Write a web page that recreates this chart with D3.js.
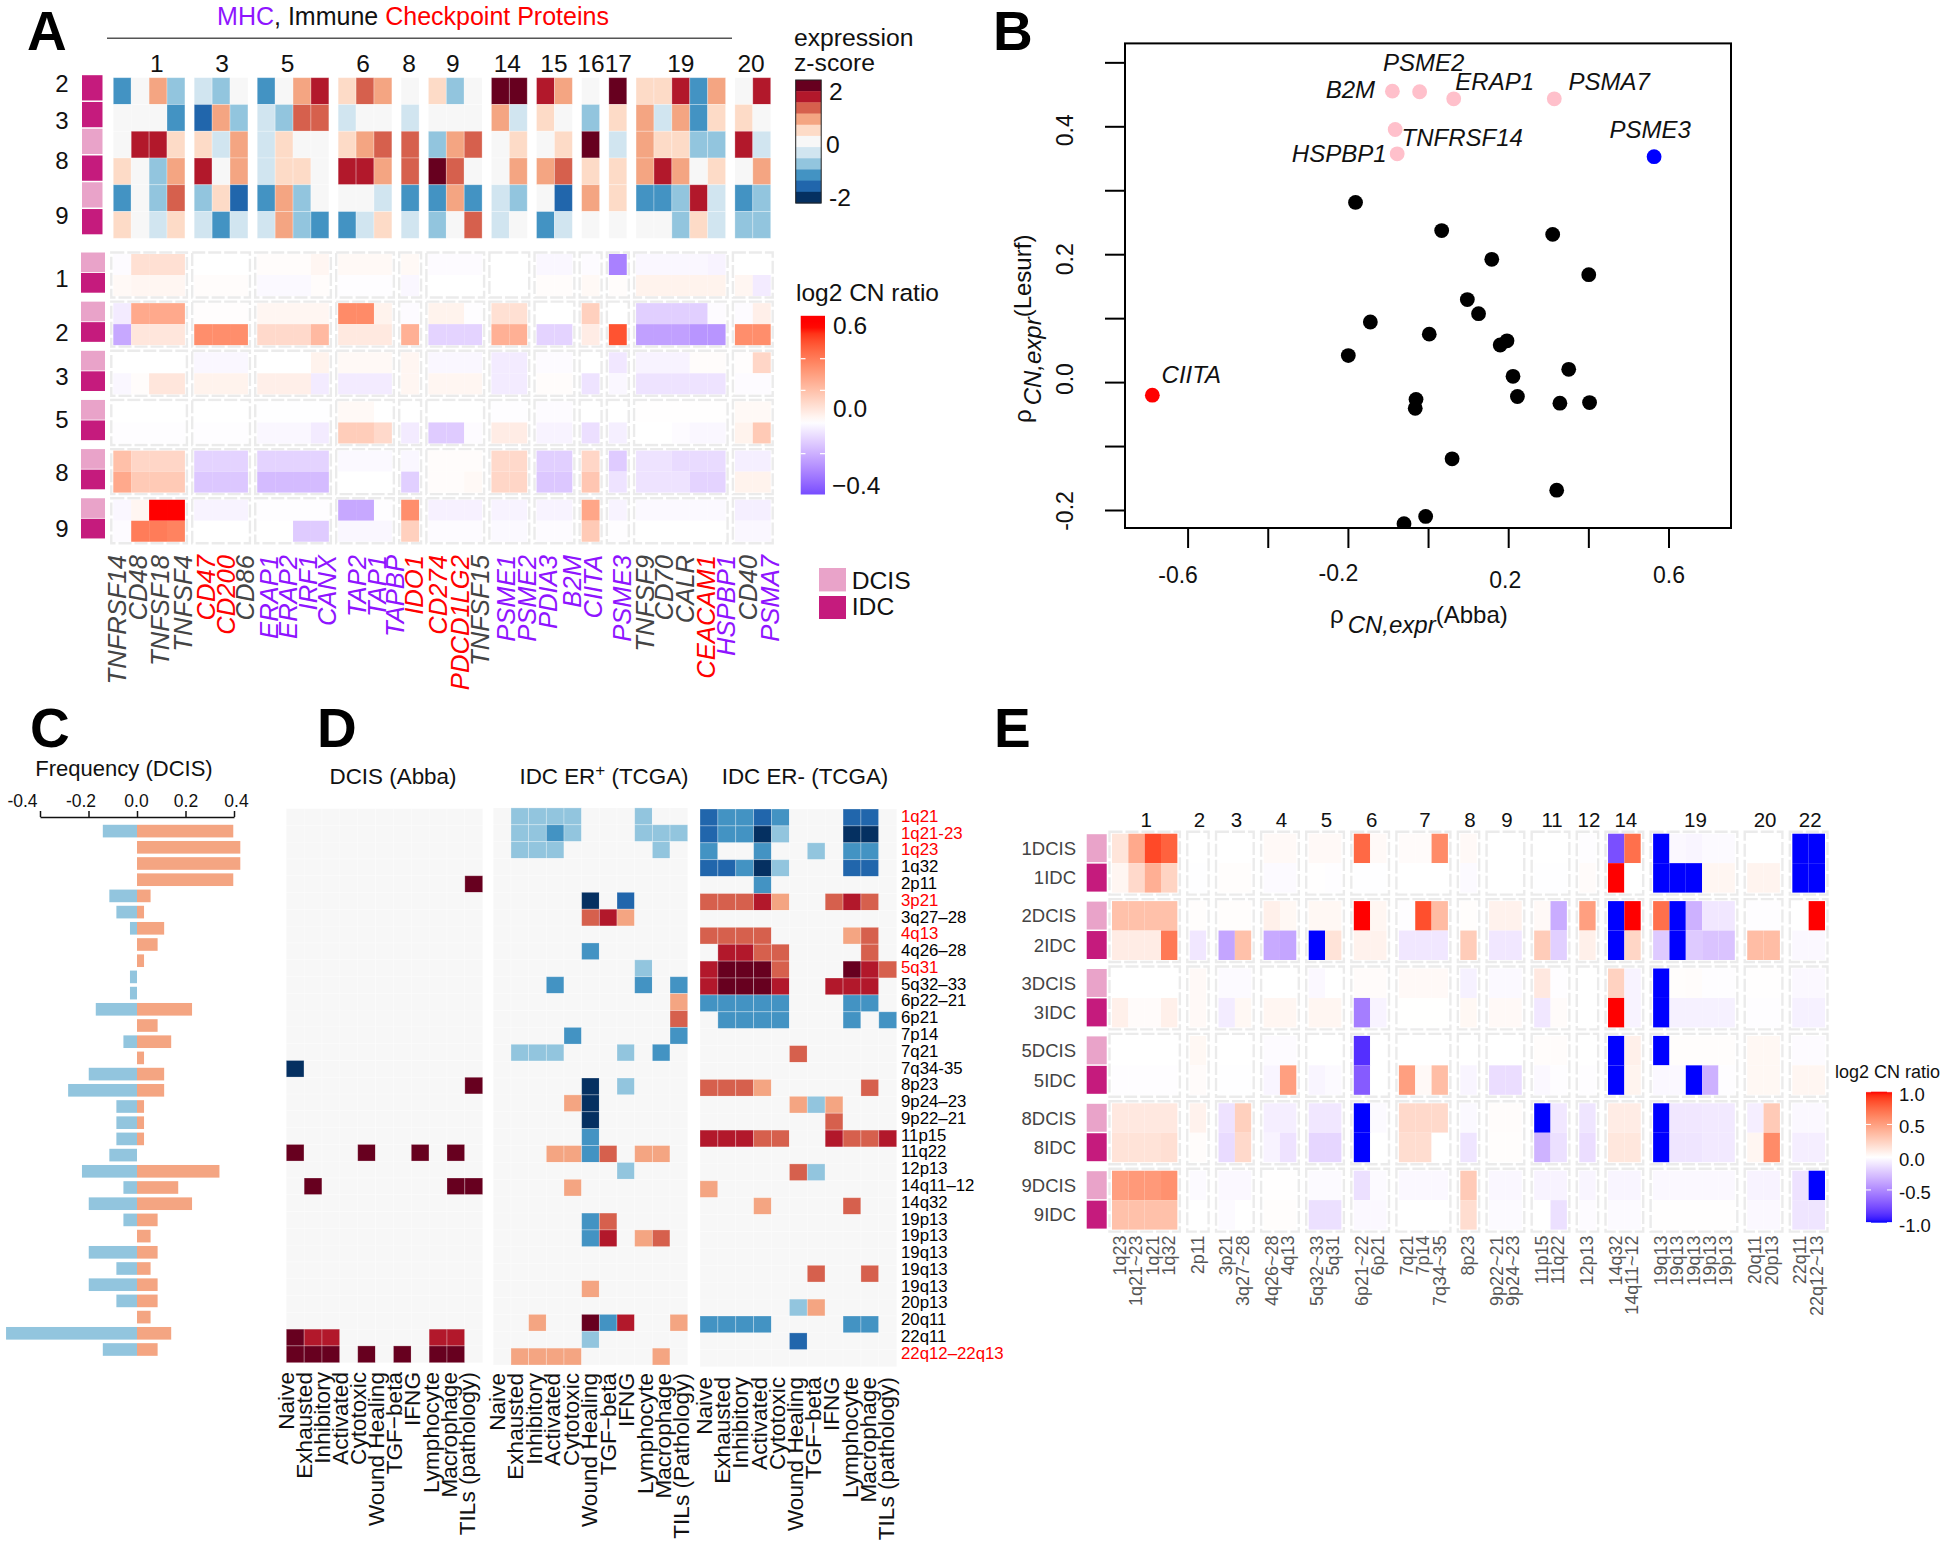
<!DOCTYPE html>
<html><head><meta charset="utf-8">
<script src="https://cdn.jsdelivr.net/npm/d3@7"></script>
<style>html,body{margin:0;padding:0;background:#fff}svg{display:block}text{font-family:"Liberation Sans",Arial,sans-serif}</style>
</head><body><div id="chart"></div>
<script>
// ---------- DATA ----------
const genes=["TNFRSF14","CD48","TNFSF18","TNFSF4","CD47","CD200","CD86","ERAP1","ERAP2","IRF1","CANX","TAP2","TAP1","TAPBP","IDO1","CD274","PDCD1LG2","TNFSF15","PSME1","PSME2","PDIA3","B2M","CIITA","PSME3","TNFSF9","CD70","CALR","CEACAM1","HSPBP1","CD40","PSMA7"];
const checkpointGenes=["CD47","CD200","IDO1","CD274","PDCD1LG2","CEACAM1"];
const mhcGenes=["ERAP1","ERAP2","IRF1","CANX","TAP2","TAP1","TAPBP","PSME1","PSME2","PDIA3","B2M","CIITA","PSME3","HSPBP1","PSMA7"];
const geneChroms=["1","3","5","6","8","9","14","15","16","17","19","20"];
const geneChromSizes=[4,3,4,3,1,3,2,2,1,1,5,2];
// z-score bins (-5..5, 0.4 z per bin)
const exprArm2a=[-3,0,2,-2, -1,-2,0, -3,0,2,4, 1,3,2, 0, 1,-2,0, 5,5, 4,2, 0, 5, 1,1,4,-3,2, 0,4];
const exprArm2b=[0,0,0,-3, -4,2,-2, -1,-2,3,3, -1,0,0, -1, 0,0,0, 2,-1, 1,0, -2, 1, 2,-1,2,-3,1, 1,0];
const exprArm8a=[0,4,4,1, 1,-1,2, -1,1,0,0, 1,2,3, 3, -2,2,3, 0,1, 0,1, 5, -1, 2,1,1,-2,-2, 4,-1];
const exprArm8b=[1,0,-2,2, 4,0,2, -1,1,1,0, 4,4,2, 3, 5,3,0, 0,2, 2,3, 1, 1, 2,4,2,0,1, 0,2];
const exprArm9a=[-3,0,-2,3, -2,1,-4, -3,2,-2,0, 0,0,-1, -3, -3,2,-3, -1,-2, 0,-4, 2, 1, -3,-3,-2,4,-1, -3,-2];
const exprArm9b=[1,0,-1,1, -1,-3,-1, -1,2,-2,-3, -3,-1,1, -1, -2,0,3, -1,0, -3,-1, 0, 0, 0,0,-2,1,-1, -2,-2];
const exprRowTypes=["IDC","IDC","DCIS","IDC","DCIS","IDC"];
const exprRowNames=["2","3","8","9"];
// log2 CN ratio per gene
const cnArm1DCIS=[-.01,.1,.1,.1, 0,0,0, .01,.01,.01,.03, .02,.02,.02, .02, -.01,-.01,-.01, 0,0, -.02,-.02, -.01, -.32, -.02,-.02,-.02,-.02,-.03, 0,0];
const cnArm1IDC=[.02,.03,.03,.03, .01,.01,.01, -.015,-.015,-.015,.01, -.005,-.005,-.005, -.02, 0,0,0, 0,0, .01,.01, .02, .01, .04,.04,.04,.04,.04, .03,-.05];
const cnArm2DCIS=[-.05,.27,.27,.27, .005,.005,.005, .03,.03,.03,.03, .36,.36,.04, -.01, .04,.04,-.005, .1,.1, 0,0, .15, 0, -.12,-.12,-.12,-.12,-.01, -.01,.05];
const cnArm2IDC=[-.22,.08,.08,.08, .35,.35,.35, .12,.12,.12,.22, .07,.07,.07, .25, -.11,-.11,-.11, .25,.25, -.11,-.11, .06, .5, -.24,-.24,-.24,-.27,-.27, .35,.35];
const cnArm3DCIS=[0,0,0,0, -.02,-.02,-.02, 0,0,0,.04, .02,.02,.02, .03, -.02,-.02,-.02, -.05,-.05, -.01,-.01, 0, -.06, -.03,-.03,-.03,.01,.01, .005,.13];
const cnArm3IDC=[-.02,.01,.08,.08, .04,.04,.04, .05,.05,.05,-.05, -.05,-.05,-.05, .03, .03,.03,.03, -.05,-.05, .01,.01, -.07, -.02, -.07,-.07,-.07,-.07,-.07, -.01,-.01];
const cnArm5DCIS=[0,0,0,0, 0,0,0, -.003,-.003,-.003,-.003, .02,.02,0, 0, 0,0,0, -.005,-.005, -.01,-.01, 0, 0, .003,.003,.003,.003,.003, .02,.02];
const cnArm5IDC=[-.005,-.005,-.005,-.005, -.005,-.005,-.005, -.02,-.02,-.02,-.05, .16,.16,.12, -.05, -.13,-.13,-.01, .06,.06, -.03,-.03, -.08, -.04, 0,0,-.01,-.02,-.02, .04,.17];
const cnArm8DCIS=[.2,.13,.13,.13, -.11,-.11,-.11, -.11,-.11,-.11,-.11, -.015,-.015,-.015, -.02, .01,.01,.01, .12,.12, -.12,-.12, .13, -.13, -.07,-.07,-.09,-.09,-.09, -.04,-.04];
const cnArm8IDC=[.27,.17,.17,.17, -.14,-.14,-.14, -.17,-.17,-.17,-.17, 0,0,0, -.12, .01,.01,.02, .13,.13, -.14,-.14, .18, -.07, -.07,-.07,-.07,-.11,-.11, .04,.04];
const cnArm9DCIS=[-.02,.03,.6,.6, -.03,-.03,-.03, -.005,-.005,-.005,-.005, -.22,-.22,-.005, .35, -.035,-.035,-.035, -.03,-.03, -.03,-.03, .28, -.03, -.015,-.015,-.015,-.015,-.015, -.04,-.04];
const cnArm9IDC=[-.01,.4,.4,.38, 0,0,0, 0,0,-.13,-.13, -.02,-.02,-.02, .15, -.01,-.01,-.01, -.015,-.015, -.01,-.01, .17, -.005, 0,0,0,0,0, -.02,-.02];
const cnArmNames=["1","2","3","5","8","9"];
// B: scatter
const bBlackAbba=[-.181,.034,.311,.159,.401,.098,.126,-.144,.003,.197,.18,-.199,.351,.212,.223,-.03,-.032,.329,.403,.06,.321,-.006,-.06];
const bBlackLesurf=[.281,.237,.231,.192,.168,.129,.107,.094,.075,.0645,.058,.0415,.02,.009,-.0225,-.027,-.041,-.033,-.032,-.12,-.169,-.21,-.2215];
const bNamedGenes=["B2M","PSME2","ERAP1","PSMA7","TNFRSF14","HSPBP1","PSME3","CIITA"];
const bNamedAbba=[-.089,-.021,.064,.315,-.082,-.077,.564,-.688];
const bNamedLesurf=[.455,.454,.443,.443,.395,.357,.3525,-.0205];
const bNamedColors=["#ffc0cb","#ffc0cb","#ffc0cb","#ffc0cb","#ffc0cb","#ffc0cb","#0000ff","#ff0000"];
// C: frequency
const cytobands=["1q21","1q21-23","1q23","1q32","2p11","3p21","3q27–28","4q13","4q26–28","5q31","5q32–33","6p22–21","6p21","7p14","7q21","7q34-35","8p23","9p24–23","9p22–21","11p15","11q22","12p13","14q11–12","14q32","19p13","19p13","19q13","19q13","19q13","20p13","20q11","22q11","22q12–22q13"];
const redBands=["1q21","1q21-23","1q23","3p21","4q13","5q31","22q12–22q13"];
const freqGain=[.397,.426,.426,.397,.056,.029,.112,.085,.029,0,0,.227,.085,.141,.029,.112,.112,.029,.029,.029,0,.34,.17,.227,.085,.056,.085,.056,.085,.085,.056,.141,.085];
const freqLoss=[-.141,0,0,0,-.114,-.085,-.029,0,0,-.029,-.029,-.17,0,-.056,0,-.199,-.284,-.085,-.085,-.085,-.114,-.227,-.056,-.199,-.056,0,-.199,-.085,-.199,-.085,0,-.54,-.141];
// D: signature labels and significant associations [band index, signature index, bin]
const sigDcis=["Naive","Exhausted","Inhibitory","Activated","Cytotoxic","Wound Healing","TGF−beta","IFNG","Lymphocyte","Macrophage","TILs (pathology)"];
const sigErPos=["Naive","Exhausted","Inhibitory","Activated","Cytotoxic","Wound Healing","TGF−beta","IFNG","Lymphocyte","Macrophage","TILs (Pathology)"];
const sigErNeg=["Naive","Exhausted","Inhibitory","Activated","Cytotoxic","Wound Healing","TGF−beta","IFNG","Lymphocyte","Macrophage","TILs (pathology)"];
const assocDcis=[[4,10,5],[15,0,-5],[16,10,5],[20,0,5],[20,4,5],[20,7,5],[20,9,5],[22,1,5],[22,9,5],[22,10,5],[31,0,5],[31,1,4],[31,2,4],[31,8,4],[31,9,4],[32,0,5],[32,1,5],[32,2,5],[32,4,5],[32,6,5],[32,8,5],[32,9,5]];
const assocErPos=[[0,1,-2],[0,2,-2],[0,3,-2],[0,4,-2],[0,8,-2],[1,1,-2],[1,2,-2],[1,3,-3],[1,4,-2],[1,8,-2],[1,9,-2],[1,10,-2],[2,1,-2],[2,2,-2],[2,3,-2],[2,9,-2],[5,5,-5],[5,7,-4],[6,5,3],[6,6,4],[6,7,2],[8,5,-3],[9,8,-2],[10,3,-3],[10,8,-3],[10,10,-3],[11,10,2],[12,10,3],[13,4,-3],[13,10,-3],[14,1,-2],[14,2,-2],[14,3,-2],[14,7,-2],[14,9,-3],[16,5,-5],[16,7,-2],[17,4,2],[17,5,-5],[18,5,-5],[19,5,-3],[20,3,2],[20,4,2],[20,5,-3],[20,6,3],[20,8,2],[20,9,2],[21,7,-2],[22,4,2],[24,5,-3],[24,6,3],[25,5,-3],[25,6,4],[25,8,2],[25,9,3],[28,5,2],[30,2,2],[30,5,5],[30,6,-3],[30,7,4],[30,10,2],[31,5,-2],[32,1,2],[32,2,2],[32,3,2],[32,4,2],[32,9,2]];
const assocErNeg=[[0,0,-4],[0,1,-3],[0,2,-3],[0,3,-4],[0,4,-3],[0,8,-4],[0,9,-4],[1,0,-4],[1,1,-3],[1,2,-3],[1,3,-5],[1,4,-2],[1,8,-5],[1,9,-5],[2,0,-3],[2,3,-3],[2,6,-2],[2,8,-3],[2,9,-3],[3,0,-4],[3,1,-4],[3,2,-3],[3,3,-5],[3,4,-2],[3,8,-4],[3,9,-4],[4,3,-3],[5,0,3],[5,1,3],[5,2,3],[5,3,4],[5,4,2],[5,7,3],[5,8,4],[5,9,3],[7,0,3],[7,1,3],[7,2,3],[7,3,3],[7,8,2],[7,9,3],[8,1,4],[8,2,4],[8,3,3],[8,4,3],[8,9,3],[9,0,4],[9,1,5],[9,2,5],[9,3,5],[9,4,3],[9,8,5],[9,9,4],[9,10,3],[10,0,4],[10,1,5],[10,2,5],[10,3,5],[10,4,4],[10,7,4],[10,8,4],[10,9,4],[11,0,-3],[11,1,-3],[11,2,-3],[11,3,-3],[11,4,-3],[11,8,-3],[11,9,-3],[12,1,-3],[12,2,-3],[12,3,-3],[12,4,-3],[12,8,-3],[12,10,-3],[14,5,3],[16,0,3],[16,1,3],[16,2,3],[16,3,2],[16,9,3],[17,5,2],[17,6,-2],[17,7,2],[18,7,3],[19,0,4],[19,1,4],[19,2,4],[19,3,3],[19,4,3],[19,7,4],[19,8,3],[19,9,3],[19,10,4],[21,5,3],[21,6,-2],[22,0,2],[23,3,2],[23,8,3],[27,6,3],[27,9,3],[29,5,-2],[29,6,2],[30,0,-3],[30,1,-3],[30,2,-3],[30,3,-3],[30,8,-3],[30,9,-3],[31,5,-4]];
// E: cytoband CN
const eChroms=["1","2","3","4","5","6","7","8","9","11","12","14","19","20","22"];
const eChromSizes=[4,1,2,2,2,2,3,1,2,2,1,2,5,2,2];
const eBands=["1q23","1q21~23","1q21","1q32","2p11","3p21","3q27~28","4q26~28","4q13","5q32~33","5q31","6p21~22","6p21","7q21","7p14","7q34~35","8p23","9p22~21","9p24~23","11p15","11q22","12p13","14q32","14q11~12","19q13","19q13","19q13","19p13","19p13","20q11","20p13","22q11","22q12~13"];
const eRowNames=["1DCIS","1IDC","2DCIS","2IDC","3DCIS","3IDC","5DCIS","5IDC","8DCIS","8IDC","9DCIS","9IDC"];
const e1DCIS=[.14,.45,.87,.78, 0, 0,0, .03,.03, .03,.03, .75,.03, .02,.02,.6, .03, 0,0, 0,0, -.01, -.75,.72, -1,-.03,-.04,-.02,-.02, 0,0, -1,-1];
const e1IDC=[.05,.2,.42,.23, -.005, .01,.01, -.02,-.02, .005,-.01, -.005,-.005, 0,0,0, -.02, 0,0, -.005,-.005, .02, 1,0, -1,-1,-1,.05,.05, .06,.06, -1,-1];
const e2DCIS=[.33,.33,.33,.33, .01, .01,.01, .08,.04, .04,.04, 1,.05, -.01,.85,.36, .01, .07,.07, .03,-.35, .5, -1,1, .72,-1,-.33,-.1,-.1, -.01,-.01, 0,1];
const e2IDC=[.1,.1,.1,.68, -.1, -.38,.33, -.36,-.38, -1,.15, .07,.07, -.1,-.1,-.1, .27, -.1,-.1, .27,-.2, .08, -1,.22, -.22,-1,-.22,-.25,-.25, .35,.35, -.03,-.03];
const e3DCIS=[0,0,0,0, .03, -.02,-.02, 0,0, -.03,0, .02,.02, .03,.03,.03, -.06, -.025,-.025, .12,-.01, 0, .24,-.05, -1,.01,.015,-.01,-.01, .005,.005, -.03,-.03];
const e3IDC=[.08,.02,.02,.08, .03, -.08,.04, .05,.05, .05,.05, -.55,-.05, .002,.002,.002, .04, .03,.03, -.1,.02, 0, 1,-.05, -1,-.06,-.06,-.06,-.06, -.01,-.01, -.06,-.06];
const e5DCIS=[0,0,0,0, .04, 0,0, -.015,-.015, 0,0, -.88,0, 0,0,0, 0, 0,0, .015,.015, 0, -1,.08, -1,.01,.01,.01,.01, .04,.04, -.015,-.015];
const e5IDC=[-.01,-.01,-.01,-.01, .02, -.005,-.005, -.04,.5, -.04,-.02, -.7,0, .5,.03,.35, -.04, -.14,-.14, -.03,-.01, -.01, -1,.06, -.03,-.03,-1,-.33,-.01, .04,.04, .05,.05];
const e8DCIS=[.12,.12,.12,.12, .07, -.12,.25, -.07,-.07, -.1,-.1, -1,-.02, .2,.2,.2, -.025, .015,.015, -1,-.1, -.11, .1,.1, -1,-.1,-.1,-.09,-.09, -.07,.28, -.03,-.03];
const e8IDC=[.15,.15,.15,.17, .015, -.15,.2, -.05,-.12, -.17,-.17, -1,0, .18,.18,0, -.11, .01,.01, -.32,-.13, -.14, .13,.13, -1,-.11,-.11,-.09,-.09, .05,.6, -.07,-.07];
const e9DCIS=[.5,.53,.53,.57, -.02, -.03,-.03, .005,.005, -.02,-.02, -.13,-.02, -.03,-.03,-.03, .28, -.035,-.035, -.05,-.05, -.04, -.04,-.04, -.03,-.03,-.03,-.03,-.03, -.05,-.05, -.12,-1];
const e9IDC=[.33,.33,.33,.33, 0, -.02,0, .01,.01, -.13,-.13, -.03,-.03, 0,0,0, .18, -.02,-.02, 0,-.13, -.015, -.02,-.02, .005,.005,.005,.005,.005, -.03,-.03, -.11,-.11];

// ---------- SETUP ----------
const W=1946,H=1542;
const svg=d3.select("#chart").append("svg").attr("width",W).attr("height",H).attr("viewBox",[0,0,W,H]);
const defs=svg.append("defs");
const PURPLE="#8f14ff",RED="#ff0000",INK="#111",GREY="#444";
const DCIS_C="#e9a3c9",IDC_C="#c51b7d";
const rdbu=d3.scaleQuantize().domain([-5.5,5.5]).range([...d3.schemeRdBu[11]].reverse());
const cnScale=m=>d3.scaleLinear().domain([-m,0,m]).range(["#0000ff","#ffffff","#ff0000"]).interpolate(d3.interpolateLab).clamp(true);
function txt(g,x,y,s,o={}){
  const t=g.append("text").attr("x",x).attr("y",y).text(s).attr("fill",o.fill||INK).attr("font-size",o.size||24).attr("text-anchor",o.anchor||"start").attr("dy",o.dy==null?".35em":o.dy);
  if(o.italic)t.attr("font-style","italic");
  if(o.bold)t.attr("font-weight","bold");
  if(o.rot!=null)t.attr("transform",`rotate(${o.rot},${x},${y})`);
  return t;
}
function cells(g,data,x,y,w,h,fill,edge){
  g.selectAll(null).data(data).join("rect")
   .attr("x",d=>x(d)).attr("y",d=>y(d)).attr("width",w).attr("height",h)
   .attr("fill",fill).attr("stroke",edge||"none").attr("stroke-opacity",.35).attr("stroke-width",edge?.8:0);
}
function groupStarts(sizes){let c=0;return sizes.map(n=>{const s=c;c+=n;return s;});}
function dashBox(g,x,y,w,h){
  g.append("rect").attr("x",x).attr("y",y).attr("width",w).attr("height",h).attr("fill","none")
   .attr("stroke","#ebebeb").attr("stroke-width",2.4).attr("stroke-dasharray","13 3");
}
// panel letters
[["A",27,50],["B",993,50],["C",30,747],["D",317,747],["E",994,747]].forEach(([s,x,y])=>
  txt(svg,x,y,s,{size:55,bold:true,dy:0,fill:"#000"}));

// ---------- PANEL A ----------
const A=svg.append("g");
{
  const t=A.append("text").attr("x",413).attr("y",16).attr("dy",".35em").attr("text-anchor","middle").attr("font-size",25);
  t.append("tspan").attr("fill",PURPLE).text("MHC");
  t.append("tspan").attr("fill",INK).text(", Immune ");
  t.append("tspan").attr("fill",RED).text("Checkpoint Proteins");
  A.append("line").attr("x1",107).attr("x2",732).attr("y1",38.3).attr("y2",38.3).attr("stroke","#555").attr("stroke-width",1.5);

  const gapF=.52, starts=groupStarts(geneChromSizes);
  const colGroup=[];geneChromSizes.forEach((n,g)=>{for(let i=0;i<n;i++)colGroup.push(g);});
  const xA=d3.scaleLinear().domain([0,31+11*gapF]).range([113.3,770.7]);
  const cw=xA(1)-xA(0);
  const colX=i=>xA(i+colGroup[i]*gapF);
  // chromosome labels
  const chrDx=[7.7,1,-5.6,-2,-1,-2.4,-2,-.5,.3,.5,0,-1.7];
  geneChroms.forEach((c,g)=>{
    const mid=(colX(starts[g])+colX(starts[g]+geneChromSizes[g]-1)+cw)/2;
    txt(A,mid+chrDx[g],63,c,{anchor:"middle",size:24.5});
  });
  // expression heat map
  const yExpr=d3.scaleBand().domain(d3.range(6)).range([77.7,238.3]);
  [exprArm2a,exprArm2b,exprArm8a,exprArm8b,exprArm9a,exprArm9b].forEach((row,r)=>{
    cells(A,row.map((v,i)=>({v,i})),d=>colX(d.i),()=>yExpr(r),cw,yExpr.bandwidth(),d=>rdbu(d.v),"#fff");
    A.append("rect").attr("x",82).attr("width",20.5).attr("y",yExpr(r)-2.5).attr("height",yExpr.bandwidth()-1.5)
      .attr("fill",exprRowTypes[r]==="DCIS"?DCIS_C:IDC_C);
  });
  [84,121,161,216].forEach((y,i)=>txt(A,62,y,exprRowNames[i],{anchor:"middle",size:24}));
  // CN heat map
  const cnA=cnScale(.6);
  const armRows=[[cnArm1DCIS,cnArm1IDC],[cnArm2DCIS,cnArm2IDC],[cnArm3DCIS,cnArm3IDC],[cnArm5DCIS,cnArm5IDC],[cnArm8DCIS,cnArm8IDC],[cnArm9DCIS,cnArm9IDC]];
  const yArm=i=>254+49.15*i, rh=21;
  armRows.forEach((pair,a)=>{
    geneChromSizes.forEach((n,g)=>dashBox(A,colX(starts[g])-2,yArm(a)-1.5,n*cw+4,2*rh+3));
    pair.forEach((row,r)=>{
      cells(A,row.map((v,i)=>({v,i})),d=>colX(d.i),()=>yArm(a)+r*rh,cw,rh,d=>cnA(d.v));
      A.append("rect").attr("x",81).attr("width",24).attr("y",yArm(a)-1.5+r*20.5).attr("height",19.7)
       .attr("fill",r?IDC_C:DCIS_C);
    });
  });
  [279,333,377,420,473,529].forEach((y,i)=>txt(A,62,y,cnArmNames[i],{anchor:"middle",size:24}));
  // gene labels
  const geneLabelX=[116.6,138,160.5,182.7,206,226,245,268.6,288,307.8,326.6,357,377,395,414,438.5,460,480,506,527,548.4,572,593,621.6,645,664,685,706.5,726,748,770];
  genes.forEach((g,i)=>{
    const col=checkpointGenes.includes(g)?RED:mhcGenes.includes(g)?PURPLE:GREY;
    txt(A,geneLabelX[i],555,g,{anchor:"end",size:25.6,italic:true,fill:col,rot:-90});
  });
  // legend: expression
  txt(A,794,37,"expression",{size:24.7});
  txt(A,794,62,"z-score",{size:24.7});
  const lv=d3.range(5,-6,-1), yl=d3.scaleBand().domain(lv).range([80,203]);
  A.selectAll(null).data(lv).join("rect").attr("x",795.7).attr("width",25.5).attr("y",d=>yl(d)).attr("height",yl.bandwidth()+.4).attr("fill",d=>rdbu(d));
  A.append("rect").attr("x",795.7).attr("y",80).attr("width",25.5).attr("height",123).attr("fill","none").attr("stroke","#222").attr("stroke-width",1);
  [["2",829,91],["0",826,144],["-2",829,197]].forEach(([s,x,y])=>txt(A,x,y,s,{size:24.7}));
  // legend: CN
  txt(A,796,292,"log2 CN ratio",{size:24.5});
  const yc=d3.scaleLinear().domain([.4,0]).range([358.7,422]);
  const ga=defs.append("linearGradient").attr("id","gA").attr("x1",0).attr("x2",0).attr("y1",0).attr("y2",1);
  d3.range(0,31).forEach(i=>{const f=i/30,y=315.8+f*178.7;ga.append("stop").attr("offset",f).attr("stop-color",cnA(yc.invert(y)));});
  A.append("rect").attr("x",800.7).attr("y",315.8).attr("width",24.3).attr("height",178.7).attr("fill","url(#gA)");
  [.4,.2,-.2].forEach(v=>{
    A.append("line").attr("x1",800.7).attr("x2",805.5).attr("y1",yc(v)).attr("y2",yc(v)).attr("stroke","#fff").attr("stroke-width",1.2);
    A.append("line").attr("x1",820).attr("x2",825).attr("y1",yc(v)).attr("y2",yc(v)).attr("stroke","#fff").attr("stroke-width",1.2);
  });
  [["0.6",833,325],["0.0",833,408.4],["−0.4",832,485.7]].forEach(([s,x,y])=>txt(A,x,y,s,{size:24.5}));
  // legend: type
  A.append("rect").attr("x",819).attr("y",568).attr("width",27).attr("height",23.4).attr("fill",DCIS_C);
  A.append("rect").attr("x",819).attr("y",596).attr("width",27).attr("height",23).attr("fill",IDC_C);
  txt(A,851.7,580,"DCIS",{size:24.7});
  txt(A,851.7,606.7,"IDC",{size:24.7});
}

// ---------- PANEL B ----------
const B=svg.append("g");
{
  const x=d3.scaleLinear().domain([-.6,.6]).range([1187.6,1668.5]);
  const y=d3.scaleLinear().domain([-.2,.4]).range([510,126.3]);
  const L=1125,R=1731,T=43.4,Bt=528;
  const ax=B.append("g").attr("transform",`translate(0,${Bt})`).call(d3.axisBottom(x).tickValues(d3.range(-6,7,2).map(v=>v/10)).tickSize(20).tickFormat(()=>""));
  ax.select(".domain").remove(); ax.selectAll("line").attr("stroke","#000").attr("stroke-width",2);
  const ay=B.append("g").attr("transform",`translate(${L},0)`).call(d3.axisLeft(y).tickValues(d3.range(-2,6).map(v=>v/10)).tickSize(20).tickFormat(()=>""));
  ay.select(".domain").remove(); ay.selectAll("line").attr("stroke","#000").attr("stroke-width",2);
  defs.append("clipPath").attr("id","bclip").append("rect").attr("x",L).attr("y",T).attr("width",R-L).attr("height",Bt-T);
  const pts=B.append("g").attr("clip-path","url(#bclip)");
  pts.selectAll(null).data(bBlackAbba.map((a,i)=>[a,bBlackLesurf[i]])).join("circle").attr("cx",d=>x(d[0])).attr("cy",d=>y(d[1])).attr("r",7.4).attr("fill","#000");
  pts.selectAll(null).data(bNamedGenes.map((g,i)=>i)).join("circle").attr("cx",i=>x(bNamedAbba[i])).attr("cy",i=>y(bNamedLesurf[i])).attr("r",7.4).attr("fill",i=>bNamedColors[i]);
  B.append("rect").attr("x",L).attr("y",T).attr("width",R-L).attr("height",Bt-T).attr("fill","none").attr("stroke","#000").attr("stroke-width",2);
  const labOff=[[-42,-2],[4,-28.7],[41,-17],[55,-17],[67,8],[-58,0],[-4,-27],[39,-21]];
  bNamedGenes.forEach((g,i)=>txt(B,x(bNamedAbba[i])+labOff[i][0],y(bNamedLesurf[i])+labOff[i][1],g,{anchor:"middle",size:24,italic:true,fill:"#111"}));
  [[-.6,"-0.6",-9.5,575],[-.2,"-0.2",-9.5,573],[.2,"0.2",-3,580],[.6,"0.6",.5,575]].forEach(([v,s,dx,yy])=>txt(B,x(v)+dx,yy,s,{anchor:"middle",size:23}));
  [[.4,"0.4",4],[.2,"0.2",5],[0,"0.0",-3],[-.2,"-0.2",1]].forEach(([v,s,dy])=>txt(B,1065.4,y(v)+dy,s,{anchor:"middle",size:23,rot:-90}));
  // axis titles
  const xl=B.append("text").attr("x",1330).attr("y",623).attr("font-size",24).attr("fill",INK);
  xl.append("tspan").text("ρ");
  xl.append("tspan").attr("dy",10).attr("dx",4).attr("font-style","italic").text("CN,expr");
  xl.append("tspan").attr("dy",-10).text("(Abba)");
  const yl2=B.append("text").attr("transform","translate(1031,423) rotate(-90)").attr("font-size",24).attr("fill",INK);
  yl2.append("tspan").text("ρ");
  yl2.append("tspan").attr("dy",10).attr("dx",4).attr("font-style","italic").text("CN,expr");
  yl2.append("tspan").attr("dy",-10).text("(Lesurf)");
}

// ---------- PANEL C ----------
const C=svg.append("g");
{
  const x=d3.scaleLinear().domain([-.4,.4]).range([40,234]);
  const y=d3.scaleBand().domain(d3.range(33)).range([823,1357.6]).paddingInner(.22).paddingOuter(.11);
  const ax=C.append("g").attr("transform","translate(0,817)").call(d3.axisTop(x).tickValues([-.4,-.2,0,.2,.4]).tickSize(6).tickSizeOuter(0).tickFormat(d=>d3.format(".1f")(d).replace("−","-")));
  ax.select(".domain").attr("stroke","#111").attr("stroke-width",1.5);
  ax.selectAll("line").attr("stroke","#111").attr("stroke-width",1.5);
  const tickDx=[-18,-8,-1,0,2];
  ax.selectAll("text").attr("font-size",17.5).attr("y",-10).attr("dy",0).attr("x",(d,i)=>tickDx[i]).attr("fill",INK).attr("font-family",'"Liberation Sans"');
  txt(C,124,768.6,"Frequency (DCIS)",{anchor:"middle",size:22});
  const bars=(vals,color)=>C.selectAll(null).data(vals.map((v,i)=>({v,i})).filter(d=>d.v!==0)).join("rect")
    .attr("x",d=>Math.min(x(d.v),x(0))).attr("width",d=>Math.abs(x(d.v)-x(0))).attr("y",d=>y(d.i)).attr("height",y.bandwidth()).attr("fill",color);
  bars(freqLoss,"#92c5de"); bars(freqGain,"#f4a582");
}

// ---------- PANEL D ----------
const D=svg.append("g");
{
  const panels=[
    {calls:assocDcis,labels:sigDcis,x0:286.3,x1:482.7,y0:808.6,y1:1362.7,title:["DCIS (Abba)"],cx:393,lab0:285.6,lab1:467,labY:1372},
    {calls:assocErPos,labels:sigErPos,x0:493.3,x1:687.7,y0:807.9,y1:1365,title:["IDC ER","+"," (TCGA)"],cx:604,lab0:497,lab1:681.5,labY:1373},
    {calls:assocErNeg,labels:sigErNeg,x0:700,x1:896.7,y0:809,y1:1366.7,title:["IDC ER- (TCGA)"],cx:805,lab0:704,lab1:886,labY:1377}
  ];
  panels.forEach(p=>{
    const mat=d3.range(33).map(()=>d3.range(11).map(()=>0));
    p.calls.forEach(([r,c,v])=>{mat[r][c]=v;});
    const x=d3.scaleBand().domain(d3.range(11)).range([p.x0,p.x1]);
    const y=d3.scaleBand().domain(d3.range(33)).range([p.y0,p.y1]);
    const flat=mat.flatMap((row,r)=>row.map((v,c)=>({v,r,c})));
    cells(D,flat,d=>x(d.c),d=>y(d.r),x.bandwidth(),y.bandwidth(),d=>rdbu(d.v),"#fff");
    const xl=d3.scalePoint().domain(d3.range(11)).range([p.lab0,p.lab1]);
    p.labels.forEach((s,i)=>txt(D,xl(i),p.labY,s,{anchor:"end",size:22.6,rot:-90}));
    const t=D.append("text").attr("x",p.cx).attr("y",776).attr("dy",".35em").attr("text-anchor","middle").attr("font-size",22.4).attr("fill",INK);
    if(p.title.length===1)t.text(p.title[0]);
    else{t.append("tspan").text(p.title[0]);t.append("tspan").attr("dy",-8).attr("font-size",17).text(p.title[1]);t.append("tspan").attr("dy",8).text(p.title[2]);}
  });
  const yL=d3.scalePoint().domain(d3.range(33)).range([816,1352.9]);
  cytobands.forEach((s,i)=>txt(D,901,yL(i),s,{size:16.8,fill:redBands.includes(s)?RED:"#000"}));
}

// ---------- PANEL E ----------
const E=svg.append("g");
{
  const cnE=cnScale(1);
  const gapF=.76, starts=groupStarts(eChromSizes);
  const colGroup=[];eChromSizes.forEach((n,g)=>{for(let i=0;i<n;i++)colGroup.push(g);});
  const xE=d3.scaleLinear().domain([0,33+14*gapF]).range([1112,1825]);
  const cw=xE(1)-xE(0);
  const colX=i=>xE(i+colGroup[i]*gapF);
  eChroms.forEach((c,g)=>{
    const mid=(colX(starts[g])+colX(starts[g]+eChromSizes[g]-1)+cw)/2;
    txt(E,mid+1.5,820,c,{anchor:"middle",size:20.5});
  });
  const rows=[e1DCIS,e1IDC,e2DCIS,e2IDC,e3DCIS,e3IDC,e5DCIS,e5IDC,e8DCIS,e8IDC,e9DCIS,e9IDC];
  const rh=29.45, yG=i=>833.7+67.4*i;
  d3.range(6).forEach(a=>eChromSizes.forEach((n,g)=>dashBox(E,colX(starts[g])-2.5,yG(a)-2,n*cw+5,2*rh+4)));
  rows.forEach((row,k)=>{
    const a=Math.floor(k/2), r=k%2;
    const yy=yG(a)+r*rh;
    cells(E,row.map((v,i)=>({v,i})),d=>colX(d.i),()=>yy,cw,rh,d=>cnE(d.v));
    E.append("rect").attr("x",1086.7).attr("width",20).attr("y",yy+.5).attr("height",rh-1.5).attr("fill",r?IDC_C:DCIS_C);
    txt(E,1076,yy+rh/2,eRowNames[k],{anchor:"end",size:18.5,fill:GREY});
  });
  eBands.forEach((s,i)=>txt(E,colX(i)+cw/2-.5,1235.5,s,{anchor:"end",size:18,fill:"#555",rot:-90}));
  // legend
  txt(E,1835,1071.7,"log2 CN ratio",{size:18});
  const yv=d3.scaleLinear().domain([1,-1]).range([1091.7,1222.7]);
  const g=defs.append("linearGradient").attr("id","gE").attr("x1",0).attr("x2",0).attr("y1",0).attr("y2",1);
  d3.range(0,41).forEach(i=>{const v=1-i*.05;g.append("stop").attr("offset",i/40).attr("stop-color",cnE(v));});
  E.append("rect").attr("x",1866).attr("y",1091.7).attr("width",26).attr("height",131).attr("fill","url(#gE)");
  [1,.5,0,-.5,-1].forEach(v=>{
    const s=d3.format(".1f")(v).replace("−","-");
    E.append("line").attr("x1",1866).attr("x2",1871).attr("y1",yv(v)).attr("y2",yv(v)).attr("stroke","#fff").attr("stroke-width",1);
    E.append("line").attr("x1",1887).attr("x2",1892).attr("y1",yv(v)).attr("y2",yv(v)).attr("stroke","#fff").attr("stroke-width",1);
    txt(E,1899,yv(v)+2.5,s,{size:18.5});
  });
}
</script></body></html>
